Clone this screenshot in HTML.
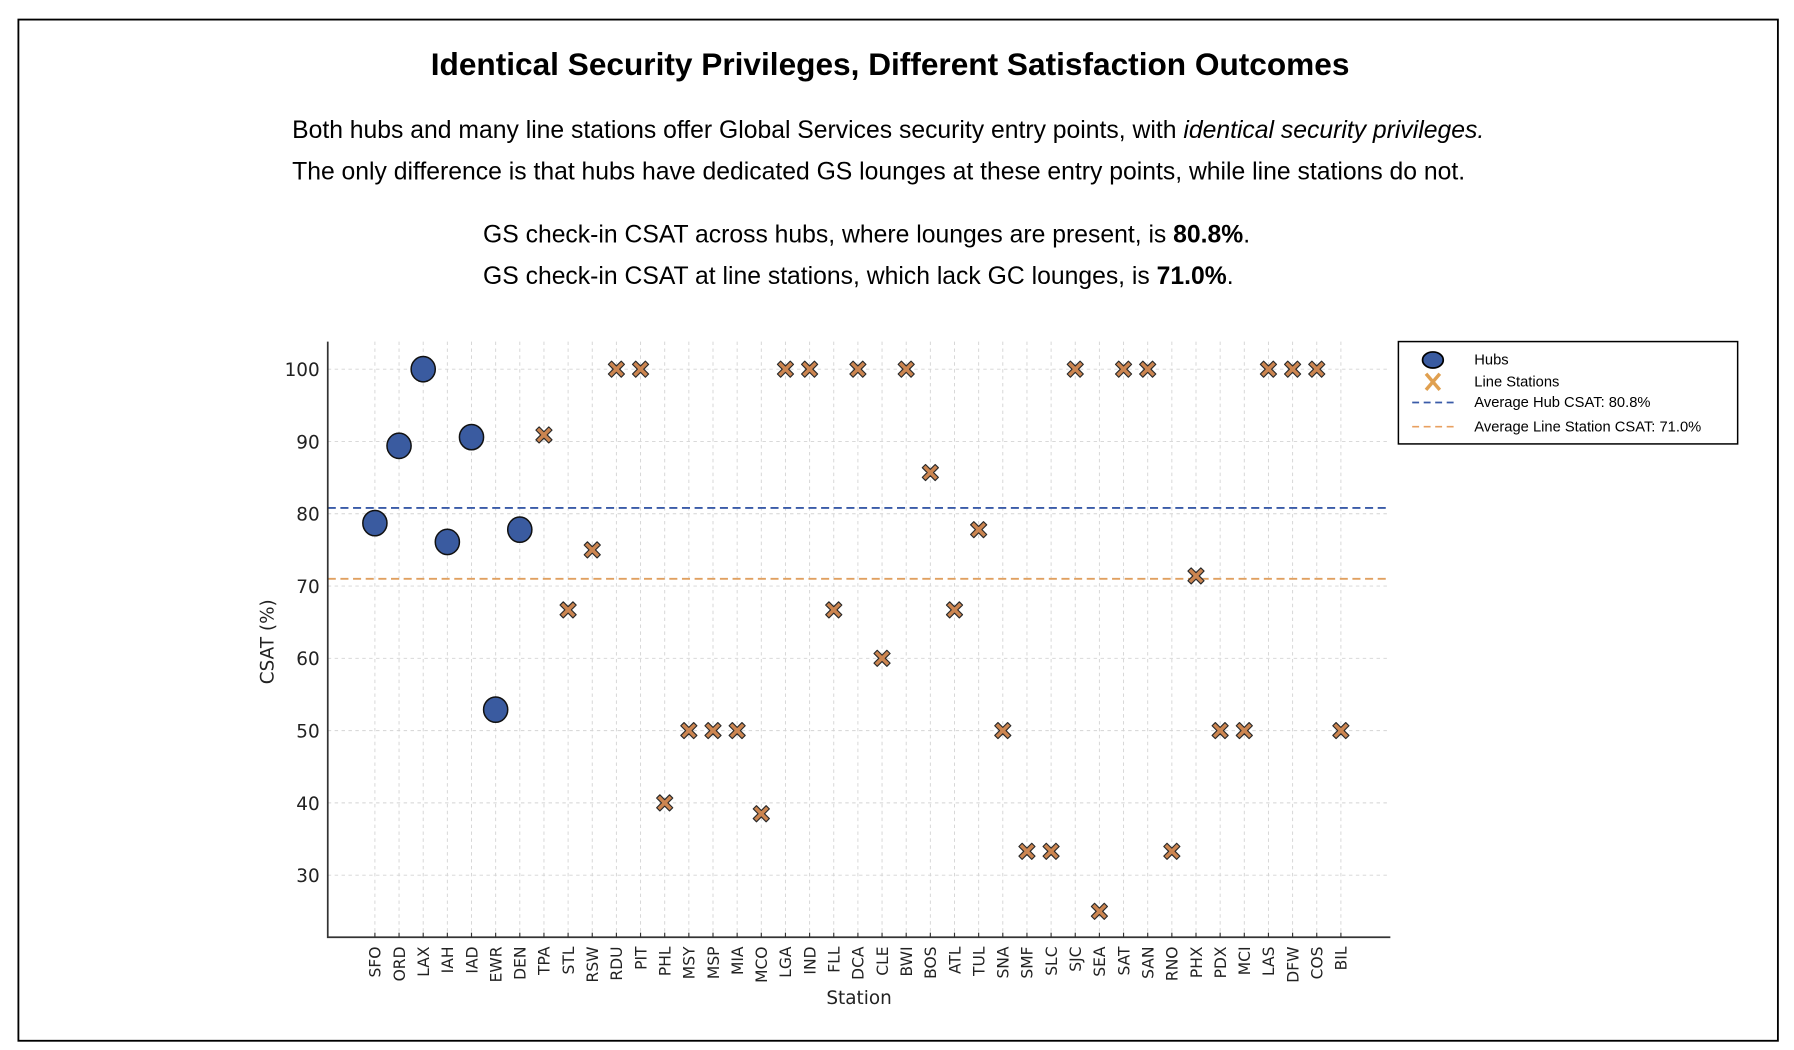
<!DOCTYPE html>
<html><head><meta charset="utf-8"><style>
html,body{margin:0;padding:0;background:#fff;}
svg{display:block;font-family:"Liberation Sans","DejaVu Sans",sans-serif;}
.dv{font-family:"DejaVu Sans","Liberation Sans",sans-serif;}
</style></head><body>
<svg id="chart" width="1794" height="1050" viewBox="0 0 1560 913" xmlns="http://www.w3.org/2000/svg">
<rect x="16" y="17" width="1530" height="888" fill="#fff" stroke="#000" stroke-width="1.6"/>
<text x="774" y="65" text-anchor="middle" font-size="27.5" font-weight="bold">Identical Security Privileges, Different Satisfaction Outcomes</text>
<text x="254" y="120" font-size="21.5">Both hubs and many line stations offer Global Services security entry points, with <tspan font-style="italic">identical security privileges.</tspan></text>
<text x="254" y="156" font-size="21.5">The only difference is that hubs have dedicated GS lounges at these entry points, while line stations do not.</text>
<text x="420" y="211" font-size="21.5">GS check-in CSAT across hubs, where lounges are present, is <tspan font-weight="bold">80.8%</tspan>.</text>
<text x="420" y="247" font-size="21.5">GS check-in CSAT at line stations, which lack GC lounges, is <tspan font-weight="bold">71.0%</tspan>.</text>
<g id="grid"></g>
<g id="avg"></g>
<g id="marks"></g>
<g id="axes"></g>
<text class="dv" x="238" y="558" text-anchor="middle" font-size="16" fill="#222" transform="rotate(-90 238 558)">CSAT (%)</text>
<text class="dv" x="747" y="873" text-anchor="middle" font-size="16" fill="#222">Station</text>
<g>
<rect x="1216" y="297" width="295" height="89" fill="#fff" stroke="#000" stroke-width="1.3"/>
<ellipse cx="1246" cy="313" rx="9" ry="7" fill="#3a5ba0" stroke="#000" stroke-width="1.5"/>
<text x="1282" y="317" font-size="12.8">Hubs</text>
<path d="M1240,325 L1252,339 M1252,325 L1240,339" stroke="#e0a050" stroke-width="3"/>
<text x="1282" y="336" font-size="12.8">Line Stations</text>
<line x1="1228" y1="350" x2="1264" y2="350" stroke="#3a5ba8" stroke-width="1.5" stroke-dasharray="6,4"/>
<text x="1282" y="354" font-size="12.8">Average Hub CSAT: 80.8%</text>
<line x1="1228" y1="371" x2="1264" y2="371" stroke="#e8a060" stroke-width="1.5" stroke-dasharray="6,4"/>
<text x="1282" y="375" font-size="12.8">Average Line Station CSAT: 71.0%</text>
</g>
</svg>
<script>
const hubStations = ["SFO","ORD","LAX","IAH","IAD","EWR","DEN"];
const hubValues = [78.7,89.4,100,76.1,90.6,52.9,77.8];
const lineStations = ["TPA","STL","RSW","RDU","PIT","PHL","MSY","MSP","MIA","MCO","LGA","IND","FLL","DCA","CLE","BWI","BOS","ATL","TUL","SNA","SMF","SLC","SJC","SEA","SAT","SAN","RNO","PHX","PDX","MCI","LAS","DFW","COS","BIL"];
const lineValues = [90.9,66.7,75,100,100,40,50,50,50,38.5,100,100,66.7,100,60,100,85.7,66.7,77.8,50,33.3,33.3,100,25,100,100,33.3,71.4,50,50,100,100,100,50];
const yTicks = [30,40,50,60,70,80,90,100];
const hubAvg = 80.8;
const lineAvg = 71.0;

const NS="http://www.w3.org/2000/svg";
const categories = hubStations.concat(lineStations);
const L=285,R=1209,T=297,B=815;
const x0=326, x1=1166;
function xs(i){return x0+(x1-x0)*i/(categories.length-1);}
function ys(v){return 321+(100-v)*(440/70);}
function mk(tag,attrs,parent){const e=document.createElementNS(NS,tag);for(const k in attrs)e.setAttribute(k,attrs[k]);parent.appendChild(e);return e;}
const grid=document.getElementById('grid'),axes=document.getElementById('axes'),marks=document.getElementById('marks'),avg=document.getElementById('avg');
categories.forEach((c,i)=>{
  const g=mk('line',{x1:xs(i),x2:xs(i),y1:T,y2:B,stroke:'#d4d4d4','stroke-width':0.8,'stroke-dasharray':'3,3'},grid);
  
  
  const tk=mk('line',{x1:xs(i),x2:xs(i),y1:B,y2:B-4,stroke:'#333','stroke-width':1},axes);
  
  
  const t=mk('text',{x:0,y:0,'font-size':13.5,fill:'#222','text-anchor':'end','class':'dv',transform:`translate(${xs(i)+5},${B+8}) rotate(-90)`},axes);
  t.textContent=c;
  
  
});
yTicks.forEach(v=>{
  const g=mk('line',{x1:L,x2:R,y1:ys(v),y2:ys(v),stroke:'#d4d4d4','stroke-width':0.8,'stroke-dasharray':'3,3'},grid);
  
  
  const t=mk('text',{x:278,y:ys(v)+6,'font-size':16,fill:'#222','text-anchor':'end','class':'dv'},axes);
  t.textContent=v;
  
  
});
const ax=mk('path',{d:`M${L},${T} L${L},${B} L${R},${B}`,fill:'none',stroke:'#333','stroke-width':1.5},axes);


const ha=mk('line',{x1:L,x2:R,y1:ys(hubAvg),y2:ys(hubAvg),stroke:'#3a5ba8','stroke-width':1.6,'stroke-dasharray':'7,4'},avg);


const la=mk('line',{x1:L,x2:R,y1:ys(lineAvg),y2:ys(lineAvg),stroke:'#e0a060','stroke-width':1.6,'stroke-dasharray':'7,4'},avg);


hubValues.forEach((v,i)=>{
  const c=mk('ellipse',{cx:xs(i),cy:ys(v),rx:10.5,ry:11,fill:'#3a5ba0',stroke:'#111','stroke-width':1.3},marks);
  
  
});
function xPath(cx,cy){const a=7,b=2.8;
  return `M${cx-a+b},${cy-a} L${cx},${cy-b} L${cx+a-b},${cy-a} L${cx+a},${cy-a+b} L${cx+b},${cy} L${cx+a},${cy+a-b} L${cx+a-b},${cy+a} L${cx},${cy+b} L${cx-a+b},${cy+a} L${cx-a},${cy+a-b} L${cx-b},${cy} L${cx-a},${cy-a+b} Z`;}
lineValues.forEach((v,i)=>{
  const p=mk('path',{d:xPath(xs(i+hubStations.length),ys(v)),fill:'#cc8550',stroke:'#2a2a2a','stroke-width':1,'stroke-linejoin':'round'},marks);
  
  
});
</script>
</body></html>
